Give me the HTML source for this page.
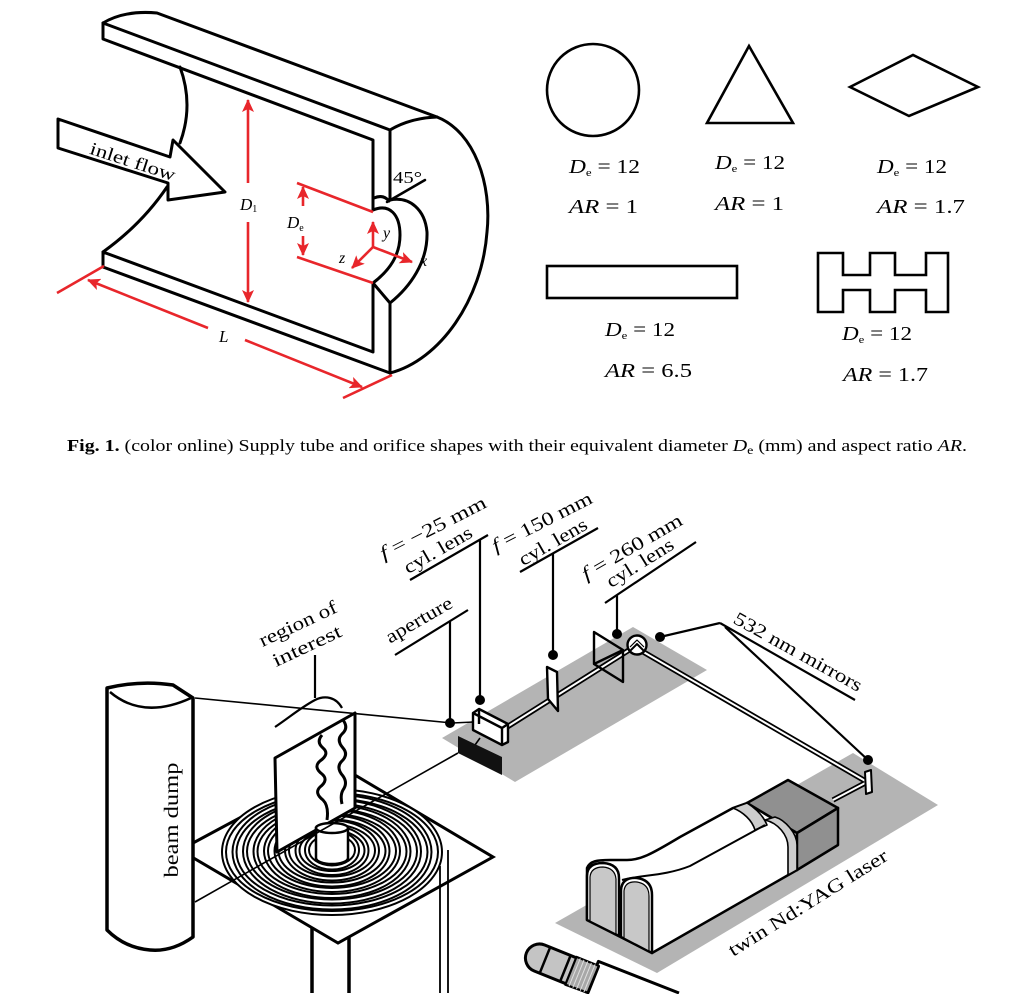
<!DOCTYPE html>
<html><head><meta charset="utf-8"><style>html,body{margin:0;padding:0;background:#fff;width:1032px;height:994px;overflow:hidden;}svg{display:block;overflow:hidden;}</style></head>
<body>
<svg width="1032" height="994" viewBox="0 0 1032 994" xmlns="http://www.w3.org/2000/svg" font-family="'Liberation Serif', serif">
<defs>
<marker id="ra" viewBox="0 0 13 12" refX="12" refY="6" markerWidth="13" markerHeight="12" markerUnits="userSpaceOnUse" orient="auto"><path d="M0,0 L13,6 L0,12 L3,6 Z" fill="#e8262b"/></marker>
</defs>
<rect width="1032" height="994" fill="#fff"/>

<!-- ===== TOP LEFT: supply tube ===== -->
<g fill="none" stroke="#000" stroke-width="3" stroke-linejoin="round" stroke-linecap="round">
 <path d="M103,23 Q125,10 157,13 L437,117"/>
 <path d="M103,23 L103,39 L373,140 L373,210"/>
 <path d="M103,23 L390,130 L390,200"/>
 <path d="M390,130 Q410,118 437,117"/>
 <path d="M437,117 C475,132 492,185 487,232 C482,300 440,360 390,373"/>
 <path d="M373,283 L373,352 L103,252 L103,267 L390,373 L390,303"/>
 <path d="M373,283 L390,303"/>
 <path d="M373,210 C390,203 400,215 400,235 C400,255 390,270 373,283"/>
 <path d="M390,200 C410,196 425,210 427,232 C428,262 410,287 390,303"/>
 <path d="M374,198 Q383,194 389,201"/>
 <path d="M180,67 Q194,105 180,143"/>
 <path d="M167,187 Q142,224 103,252"/>
 <path d="M58,119 L170,157 L173,140 L225,192 L168,200 L168,183 L58,148 Z" fill="#fff"/>
 <path d="M387,202 L425,180" stroke-width="2.5"/>
</g>
<g transform="translate(132.5,162.5) rotate(18)"><text x="0" y="5" text-anchor="middle" font-size="18" textLength="89" lengthAdjust="spacingAndGlyphs">inlet flow</text></g>
<text x="393" y="183" font-size="17" textLength="29" lengthAdjust="spacingAndGlyphs">45°</text>

<!-- red dimensions -->
<g stroke="#e8262b" stroke-width="2.6" fill="none" stroke-linecap="butt">
 <line x1="248" y1="183" x2="248" y2="100" marker-end="url(#ra)"/>
 <line x1="248" y1="222" x2="248" y2="302" marker-end="url(#ra)"/>
 <line x1="297" y1="183" x2="373" y2="212"/>
 <line x1="297" y1="257" x2="373" y2="283"/>
 <line x1="303" y1="206" x2="303" y2="187" marker-end="url(#ra)"/>
 <line x1="303" y1="236" x2="303" y2="255" marker-end="url(#ra)"/>
 <line x1="373" y1="247" x2="373" y2="222" marker-end="url(#ra)"/>
 <line x1="373" y1="247" x2="412" y2="262" marker-end="url(#ra)"/>
 <line x1="373" y1="247" x2="352" y2="268" marker-end="url(#ra)"/>
 <line x1="57" y1="293" x2="104" y2="266"/>
 <line x1="343" y1="398" x2="392" y2="375"/>
 <line x1="208" y1="328" x2="88" y2="280" marker-end="url(#ra)"/>
 <line x1="245" y1="340" x2="362" y2="387" marker-end="url(#ra)"/>
</g>
<text x="240" y="210" font-size="17"><tspan font-style="italic">D</tspan><tspan font-size="10" dy="2">1</tspan></text>
<text x="287" y="228" font-size="17"><tspan font-style="italic">D</tspan><tspan font-size="10" dy="3">e</tspan></text>
<text x="383" y="238" font-size="16" font-style="italic">y</text>
<text x="420" y="266" font-size="16" font-style="italic">x</text>
<text x="339" y="263" font-size="16" font-style="italic">z</text>
<text x="219" y="342" font-size="17" font-style="italic">L</text>

<!-- ===== TOP RIGHT: shapes ===== -->
<g fill="none" stroke="#000" stroke-width="2.6" stroke-linejoin="miter">
 <circle cx="593" cy="90" r="46"/>
 <polygon points="749,46 707,123 793,123"/>
 <polygon points="850,87 913,55 978,87 909,116"/>
 <rect x="547" y="266" width="190" height="32"/>
 <path d="M818,253 H843 V275 H870 V253 H895 V275 H926 V253 H948 V312 H926 V290 H895 V312 H870 V290 H843 V312 H818 Z"/>
</g>
<g font-size="20">
 <text x="569" y="173" textLength="71" lengthAdjust="spacingAndGlyphs"><tspan font-style="italic">D</tspan><tspan font-size="11" dy="3">e</tspan><tspan dy="-3"> = 12</tspan></text>
 <text x="569" y="213" textLength="69" lengthAdjust="spacingAndGlyphs"><tspan font-style="italic">AR</tspan> = 1</text>
 <text x="715" y="169" textLength="70" lengthAdjust="spacingAndGlyphs"><tspan font-style="italic">D</tspan><tspan font-size="11" dy="3">e</tspan><tspan dy="-3"> = 12</tspan></text>
 <text x="715" y="210" textLength="69" lengthAdjust="spacingAndGlyphs"><tspan font-style="italic">AR</tspan> = 1</text>
 <text x="877" y="173" textLength="70" lengthAdjust="spacingAndGlyphs"><tspan font-style="italic">D</tspan><tspan font-size="11" dy="3">e</tspan><tspan dy="-3"> = 12</tspan></text>
 <text x="877" y="213" textLength="88" lengthAdjust="spacingAndGlyphs"><tspan font-style="italic">AR</tspan> = 1.7</text>
 <text x="605" y="336" textLength="70" lengthAdjust="spacingAndGlyphs"><tspan font-style="italic">D</tspan><tspan font-size="11" dy="3">e</tspan><tspan dy="-3"> = 12</tspan></text>
 <text x="605" y="377" textLength="87" lengthAdjust="spacingAndGlyphs"><tspan font-style="italic">AR</tspan> = 6.5</text>
 <text x="842" y="340" textLength="70" lengthAdjust="spacingAndGlyphs"><tspan font-style="italic">D</tspan><tspan font-size="11" dy="3">e</tspan><tspan dy="-3"> = 12</tspan></text>
 <text x="843" y="381" textLength="85" lengthAdjust="spacingAndGlyphs"><tspan font-style="italic">AR</tspan> = 1.7</text>
</g>

<!-- caption -->
<text x="67" y="451" font-size="17" textLength="900" lengthAdjust="spacingAndGlyphs"><tspan font-weight="bold">Fig. 1.</tspan> (color online) Supply tube and orifice shapes with their equivalent diameter <tspan font-style="italic">D</tspan><tspan font-size="12" dy="3">e</tspan><tspan dy="-3"> (mm) and aspect ratio </tspan><tspan font-style="italic">AR</tspan>.</text>

<!-- ===== BOTTOM: setup ===== -->
<polygon points="442,738 633,627 707,670 515,782" fill="#b4b4b4"/>
<polygon points="555,923 853,753 938,805 657,973" fill="#b4b4b4"/>

<g stroke="#000" stroke-width="1.6" fill="none">
 <line x1="452" y1="723" x2="195" y2="698"/>
 <line x1="452" y1="723" x2="474" y2="722"/>
 <line x1="480" y1="738" x2="470" y2="752"/>
</g>

<polygon points="458,736 502,757 502,775 458,753" fill="#111"/>

<g fill="none" stroke-linecap="butt">
 <path d="M507,727 L637,645" stroke="#000" stroke-width="5.5"/>
 <path d="M507,727 L637,645" stroke="#fff" stroke-width="2"/>
 <path d="M640,650 L867,782 L833,800" stroke="#000" stroke-width="5.5" stroke-linejoin="miter"/>
 <path d="M640,650 L867,782 L833,800" stroke="#fff" stroke-width="2" stroke-linejoin="miter"/>
</g>

<g fill="none" stroke="#000" stroke-width="2.4" stroke-linejoin="round">
 <polygon points="473,713 479,709 508,724 508,742 502,745 473,730" fill="#fff"/>
 <path d="M473,713 L502,728 L502,745 M502,728 L508,724 M479,709 L479,724"/>
 <polygon points="547,667 557,672 558,711 548,699" fill="#fff"/>
 <polygon points="594,632 623,650 623,682 594,664"/>
 <path d="M594,664 L623,650"/>
 <circle cx="637" cy="645" r="9.5" fill="#fff"/>
 <path d="M630,651 L637,644 L644,651" stroke-width="2"/>
 <path d="M630,647 L637,640 L644,647" stroke-width="1.2"/>
 <polygon points="865,772 871,770 872,792 866,794" fill="#fff" stroke-width="2"/>
</g>

<g stroke="#000" stroke-width="2.2" fill="none">
 <path d="M410,580 L488,535 M480,540 L480,700"/>
 <path d="M520,572 L598,528 M553,553 L553,655"/>
 <path d="M605,603 L696,542 M617,595 L617,634"/>
 <path d="M395,655 L468,610 M450,621 L450,723"/>
 <path d="M720,623 L855,700 M720,623 L660,637 M725,627 L868,760"/>
 <path d="M315,655 L315,698"/>
 <path d="M275,727 C290,717 300,708 315,700 C325,695 336,697 342,708"/>
</g>
<g fill="#000">
 <circle cx="450" cy="723" r="5"/>
 <circle cx="480" cy="700" r="5"/>
 <circle cx="553" cy="655" r="5"/>
 <circle cx="617" cy="634" r="5"/>
 <circle cx="660" cy="637" r="5"/>
 <circle cx="868" cy="760" r="5"/>
</g>

<!-- laser -->
<g stroke="#000" stroke-width="2.5" stroke-linejoin="round">
 <polygon points="747,803 797,833 797,870 747,840" fill="#909090"/>
 <path d="M587,868 C590,861 597,860 610,860 L627,860 C640,860 650,855 680,837 L733,808 L747,803 L797,833 L797,870 L652,953 L587,920 Z" fill="#fff"/>
 <polygon points="747,803 788,780 838,808 797,833" fill="#909090"/>
 <polygon points="797,833 838,808 838,845 797,870" fill="#909090"/>
 <path d="M733,808 C743,812 752,820 755,830 L767,825 C763,815 755,808 747,803 Z" fill="#cdcdcd" stroke-width="1.6"/>
 <path d="M765,820 C778,823 788,835 788,847 L788,875 L797,870 L797,845 C797,833 785,820 775,817 Z" fill="#cdcdcd" stroke-width="1.6"/>
 <path d="M622,880 C640,875 665,876 690,866 L765,825" fill="none" stroke-width="2"/>
 <path d="M587,920 L587,876 Q587,863 603,863 Q619,864 619,878 L619,936 Z" fill="#fff"/>
 <path d="M590,921 L590,877 Q591,867 603,867 Q615,868 616,879 L616,934 Z" fill="#c8c8c8" stroke-width="1.2"/>
 <path d="M621,937 L621,890 Q622,877 637,878 Q652,880 652,895 L652,953 Z" fill="#fff"/>
 <path d="M624,938 L624,891 Q625,881 637,882 Q649,884 649,896 L649,951 Z" fill="#c8c8c8" stroke-width="1.2"/>
</g>

<!-- camera (absolute coords, clipped at frame bottom) -->
<g stroke="#000" stroke-linejoin="round">
 <path d="M585.2,993 L598.4,961.4 L679,993 Z" fill="#fff" stroke="none"/>
 <path d="M585.2,993 L598.4,961.4 L679,993" fill="none" stroke-width="3"/>
 <path d="M544.7,945 L598.4,966.7 L588,992.7 L534.2,971 A14,14 0 0 1 544.7,945 Z" fill="#c4c4c4" stroke-width="3"/>
 <path d="M550.2,947.2 L539.7,973.2 M570.6,955.5 L560.1,981.5" fill="none" stroke-width="2.5"/>
 <polygon points="576.5,956.9 598.8,965.9 587.6,992.7 565.3,984.7" fill="#a8a8a8" stroke-width="2.2"/>
 <path d="M580.3,958.4 L569,986.2 M584,959.9 L572.8,987.7 M587.7,961.4 L576.5,989.2 M591.4,962.9 L580.2,990.7 M595.1,964.4 L583.9,992" stroke="#e0e0e0" stroke-width="1" fill="none"/>
</g>

<!-- table, legs -->
<g stroke="#000" fill="none">
 <path d="M312,928 V993 M349,936 V993" stroke-width="3.5"/>
 <polygon points="180,850 338,765 493,857 338,943" fill="#fff" stroke-width="3"/>
</g>
<!-- spiral rings -->
<g fill="none" stroke="#000" stroke-width="6">
 <ellipse cx="332" cy="852" rx="108" ry="61"/>
 <ellipse cx="332" cy="852" rx="97.5" ry="55.5"/>
 <ellipse cx="332" cy="851.5" rx="87" ry="50"/>
 <ellipse cx="332" cy="851.5" rx="76.5" ry="44.5"/>
 <ellipse cx="332" cy="851" rx="66" ry="39"/>
 <ellipse cx="332" cy="851" rx="55.5" ry="33.5"/>
 <ellipse cx="332" cy="850.5" rx="45" ry="28"/>
 <ellipse cx="332" cy="850.5" rx="34.5" ry="22.5"/>
 <ellipse cx="332" cy="850" rx="25" ry="17.5"/>
</g>
<g fill="none" stroke="#fff" stroke-width="2">
 <ellipse cx="332" cy="852" rx="108" ry="61"/>
 <ellipse cx="332" cy="852" rx="97.5" ry="55.5"/>
 <ellipse cx="332" cy="851.5" rx="87" ry="50"/>
 <ellipse cx="332" cy="851.5" rx="76.5" ry="44.5"/>
 <ellipse cx="332" cy="851" rx="66" ry="39"/>
 <ellipse cx="332" cy="851" rx="55.5" ry="33.5"/>
 <ellipse cx="332" cy="850.5" rx="45" ry="28"/>
 <ellipse cx="332" cy="850.5" rx="34.5" ry="22.5"/>
 <ellipse cx="332" cy="850" rx="25" ry="17.5"/>
</g>
<!-- ROI sheet -->
<polygon points="275,758 355,713 355,808 277,852" fill="#fff" stroke="#000" stroke-width="3" stroke-linejoin="round"/>
<!-- nozzle -->
<g stroke="#000" stroke-width="2.5" fill="#fff">
 <path d="M316,828 L316,858 A16,6 0 0 0 348,858 L348,828 Z"/>
 <ellipse cx="332" cy="828" rx="16" ry="5"/>
</g>
<!-- flame -->
<g fill="none" stroke="#000" stroke-width="3" stroke-linejoin="round">
 <path d="M322,735 q-6,7 1,13 q7,6 -3,13 q-7,6 2,13 q7,6 -2,13 q-6,6 3,13 q6,6 4,20"/>
 <path d="M343,720 q6,8 -1,14 q-6,6 1,14 q6,7 -2,14 q-5,6 2,14 q5,7 0,14 q-3,5 -1,14"/>
</g>
<line x1="458" y1="753" x2="195" y2="902" stroke="#000" stroke-width="1.6"/>
<g stroke="#000" stroke-width="1.8" fill="none">
 <path d="M440,866 V993 M448,850 V993"/>
</g>

<!-- beam dump -->
<g stroke="#000" stroke-width="3.5" stroke-linejoin="round">
 <path d="M107,688 Q140,680 173,685 L193,698 V937 Q172,952 150,950 Q125,948 107,930 Z" fill="#fff"/>
 <path d="M110,692 Q143,720 191,698" fill="none" stroke-width="2.5"/>
</g>
<g transform="translate(172,820) rotate(-90)"><text x="0" y="6" text-anchor="middle" font-size="20" textLength="115" lengthAdjust="spacingAndGlyphs">beam dump</text></g>

<!-- labels -->
<g font-size="19">
 <g transform="translate(433,528) rotate(-27)"><text x="0" y="6" text-anchor="middle" textLength="117" lengthAdjust="spacingAndGlyphs"><tspan font-style="italic">f</tspan> = −25 mm</text></g>
 <g transform="translate(438,550) rotate(-30)"><text x="0" y="6" text-anchor="middle" textLength="76" lengthAdjust="spacingAndGlyphs">cyl. lens</text></g>
 <g transform="translate(542,522) rotate(-27)"><text x="0" y="6" text-anchor="middle" textLength="110" lengthAdjust="spacingAndGlyphs"><tspan font-style="italic">f</tspan> = 150 mm</text></g>
 <g transform="translate(553,542) rotate(-30)"><text x="0" y="6" text-anchor="middle" textLength="76" lengthAdjust="spacingAndGlyphs">cyl. lens</text></g>
 <g transform="translate(632,547) rotate(-30)"><text x="0" y="6" text-anchor="middle" textLength="113" lengthAdjust="spacingAndGlyphs"><tspan font-style="italic">f</tspan> = 260 mm</text></g>
 <g transform="translate(640,563) rotate(-32)"><text x="0" y="6" text-anchor="middle" textLength="76" lengthAdjust="spacingAndGlyphs">cyl. lens</text></g>
 <g transform="translate(419,620) rotate(-30)"><text x="0" y="6" text-anchor="middle" textLength="74" lengthAdjust="spacingAndGlyphs">aperture</text></g>
 <g transform="translate(298,624) rotate(-25)"><text x="0" y="6" text-anchor="middle" textLength="84" lengthAdjust="spacingAndGlyphs">region of</text></g>
 <g transform="translate(307,646) rotate(-25)"><text x="0" y="6" text-anchor="middle" textLength="74" lengthAdjust="spacingAndGlyphs">interest</text></g>
 <g transform="translate(798,652) rotate(29)"><text x="0" y="6" text-anchor="middle" textLength="144" lengthAdjust="spacingAndGlyphs">532 nm mirrors</text></g>
 <g transform="translate(808,903) rotate(-32)"><text x="0" y="6" text-anchor="middle" textLength="184" lengthAdjust="spacingAndGlyphs">twin Nd:YAG laser</text></g>
</g>
</svg>
</body></html>
